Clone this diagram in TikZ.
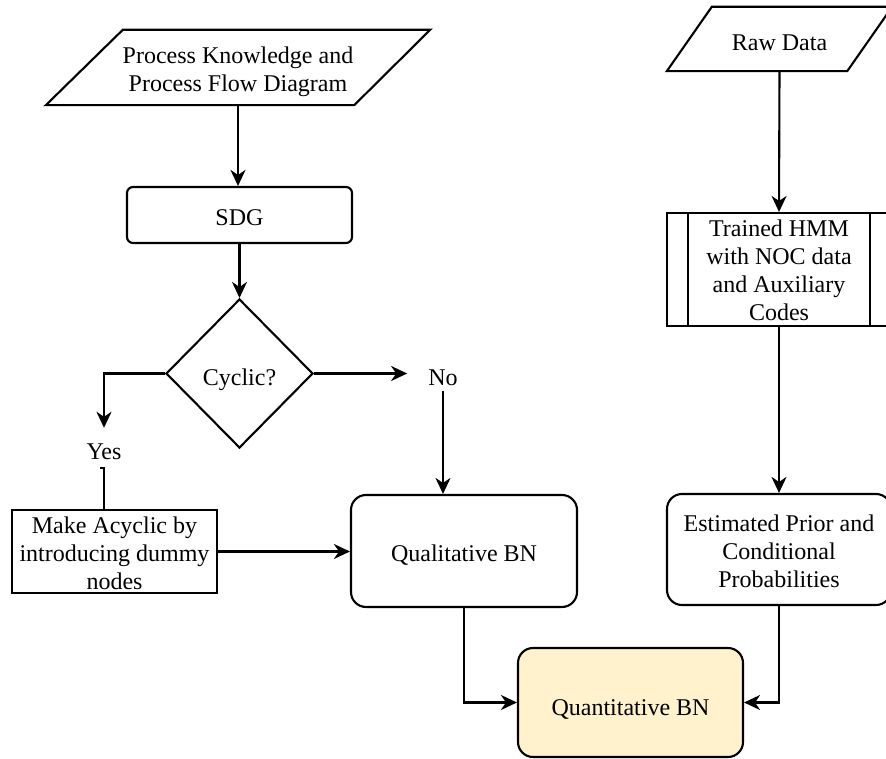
\documentclass[tikz,border=0pt]{standalone}
\usepackage{fontspec}
\setmainfont{Liberation Serif}
\usetikzlibrary{arrows.meta,shapes.geometric,calc}
\newcommand{\fsz}{\fontsize{24}{27.8}\selectfont}
\newcommand{\st}[1]{\rule{0pt}{#1pt}}
\begin{document}
\begin{tikzpicture}[x=1pt,y=-1pt,
  lw/.style={line width=2.1pt},
  box/.style={draw, lw, align=center, inner sep=0pt, font=\fsz},
  rbox/.style={box, rounded corners=15pt},
  sbox/.style={box, rounded corners=6pt},
  txt/.style={align=center, inner sep=0pt, font=\fsz},
  lbl/.style={inner sep=0pt, font=\fsz, text height=16pt, text depth=5pt},
  arr/.style={lw, -{Stealth[length=16pt,width=15pt,inset=5pt]}},
  ln/.style={lw}
]
\clip (0,0) rectangle (886,759);
\fill[white] (0,0) rectangle (886,759);

% parallelogram: process knowledge
\node[txt, minimum width=384, minimum height=75] (pk) at (238,67.5)
  {\st{25}Process Knowledge and\\Process Flow Diagram};
\draw[lw] (pk.south west) -- ([xshift=77pt]pk.north west) -- (pk.north east)
  -- ([xshift=-76pt]pk.south east) -- cycle;

% parallelogram: raw data
\node[txt, minimum width=225, minimum height=64] (raw) at (779.5,39) {\st{24}Raw Data};
\draw[lw] (raw.south west) -- ([xshift=45pt]raw.north west) -- (raw.north east)
  -- ([xshift=-45pt]raw.south east) -- cycle;

% SDG
\node[sbox, minimum width=225, minimum height=56] (sdg) at (239.5,215) {\st{22}SDG};

% decision
\node[draw, lw, diamond, minimum width=147, minimum height=149, inner sep=0pt, font=\fsz]
  (cyc) at (239.5,373.5) {\st{30}Cyclic?};

% labels
\node[lbl, inner ysep=15pt] (yes) at (104,453.5) {Yes};
\node[lbl, inner xsep=21pt, inner ysep=1pt] (no) at (443,379.5) {No};

% make acyclic
\node[box, minimum width=205, minimum height=83] (mk) at (114.5,551.5)
  {\st{20}Make Acyclic by\\introducing dummy\\nodes};

% qualitative
\node[rbox, minimum width=226, minimum height=112] (qual) at (464,551) {\st{24}Qualitative BN};

% HMM predefined process
\node[box, minimum width=224, minimum height=113] (hmm) at (779,269.5)
  {\st{18}Trained HMM\\with NOC data\\and Auxiliary\\Codes};
\draw[lw] ([xshift=22pt]hmm.north west) -- ([xshift=22pt]hmm.south west);
\draw[lw] ([xshift=-22pt]hmm.north east) -- ([xshift=-22pt]hmm.south east);

% estimated
\node[rbox, minimum width=224, minimum height=111] (est) at (779,549.5)
  {\st{20}Estimated Prior and\\Conditional\\Probabilities};

% quantitative
\node[rbox, fill={rgb,255:red,255;green,242;blue,204}, minimum width=225, minimum height=109]
  (quant) at (630.5,702.5) {\st{30}Quantitative BN};

% connectors
\draw[arr] (pk.south) -- (pk.south |- sdg.north);
\draw[arr] (sdg.south) -- (cyc.north);
\draw[arr] (cyc.west) -| (yes.north);
\draw[ln] ([xshift=-4pt,yshift=11pt]yes.south) -- ([yshift=11pt]yes.south) -- (yes.south |- mk.north);
\draw[arr] (cyc.east) -- (cyc.east -| no.west);
\draw[arr] (no.south) -- (no.south |- qual.north);
\draw[arr] (mk.east) -- (mk.east -| qual.west);
\draw[arr] (raw.south) -- (hmm.north);
\draw[arr] (hmm.south) -- (est.north);
\draw[arr] (qual.south) |- (quant.west);
\draw[arr] (est.south) |- (quant.east);
\end{tikzpicture}
\end{document}
